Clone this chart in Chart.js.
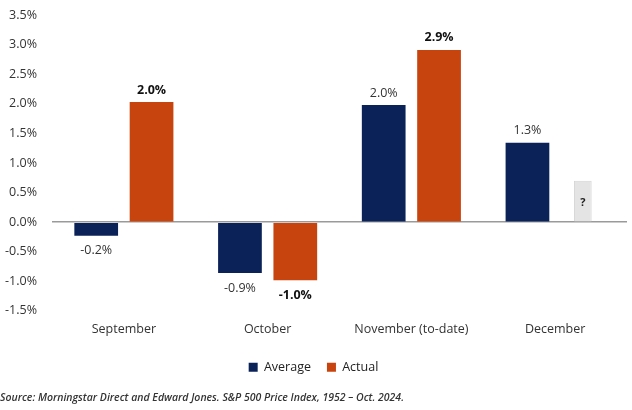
<!DOCTYPE html>
<html>
<head>
<meta charset="utf-8">
<script src="https://cdn.jsdelivr.net/npm/chart.js@4"></script>
<style>
html,body{margin:0;padding:0;background:#fff;}
#wrap{width:632px;height:410px;position:relative;}
</style>
</head>
<body>
<div id="wrap"><canvas id="c"></canvas></div>
<script>
const categories = ['September', 'October', 'November (to-date)', 'December'];
const averageValues = [-0.23, -0.86, 1.98, 1.34];
const actualValues = [2.03, -0.98, 2.91, null];
const unknownValues = [null, null, null, 0.7];
const tickMin = -1.5, tickMax = 3.5, tickStep = 0.5;
const sourceText = 'Source: Morningstar Direct and Edward Jones. S&P 500 Price Index, 1952 \u2013 Oct. 2024.';

const NAVY = '#0b2259';
const ORANGE = '#c8440f';
const FONT = "'Open Sans', 'Noto Sans', sans-serif";

const valueLabels = {
  id: 'valueLabels',
  afterDatasetsDraw(chart) {
    const ctx = chart.ctx;
    ctx.save();
    ctx.textAlign = 'center';
    ctx.textBaseline = 'middle';
    chart.data.datasets.forEach((ds, i) => {
      const meta = chart.getDatasetMeta(i);
      meta.data.forEach((bar, j) => {
        const v = ds.data[j];
        if (v == null) return;
        if (ds.kind === 'unknown') {
          ctx.font = "bold 11px " + FONT;
          ctx.fillStyle = '#222';
          ctx.fillText('?', bar.x, (bar.y + bar.base) / 2 + 2);
          return;
        }
        ctx.font = (ds.kind === 'actual' ? 'bold ' : '') + '12.5px ' + FONT;
        ctx.fillStyle = ds.kind === 'actual' ? '#111' : '#333';
        const txt = v.toFixed(1) + '%';
        const y = v >= 0 ? bar.y - 12 : bar.y + 15;
        ctx.fillText(txt, bar.x, y);
      });
    });
    ctx.restore();
  }
};

new Chart(document.getElementById('c'), {
  type: 'bar',
  data: {
    labels: categories,
    datasets: [
      { label: 'Average', kind: 'average', data: averageValues, backgroundColor: NAVY, stack: 'a' },
      { label: 'Actual', kind: 'actual', data: actualValues, backgroundColor: ORANGE, stack: 'b' },
      { label: 'Unknown', kind: 'unknown', data: unknownValues, backgroundColor: '#e4e4e4', borderColor: '#d4d4d4', borderWidth: 1, stack: 'b', barPercentage: 0.32 }
    ]
  },
  options: {
    responsive: true,
    maintainAspectRatio: false,
    animation: false,
    categoryPercentage: 0.77,
    barPercentage: 0.79,
    layout: { padding: { top: 15, right: 5, left: 0, bottom: 6 } },
    plugins: {
      tooltip: { enabled: false },
      legend: {
        position: 'bottom',
        labels: {
          filter: (item) => item.text !== 'Unknown',
          boxWidth: 9, boxHeight: 9,
          font: { family: FONT, size: 12.5 },
          color: '#222',
          padding: 16
        }
      },
      title: {
        display: true,
        position: 'bottom',
        align: 'start',
        text: sourceText,
        color: '#333',
        font: { family: FONT, size: 10.5, style: 'italic', weight: '600' },
        padding: { top: 8, bottom: 0 }
      }
    },
    scales: {
      x: {
        stacked: true,
        grid: { display: false },
        border: { display: false },
        afterFit: (scale) => { scale.height += 5; },
        ticks: { color: '#333', font: { family: FONT, size: 12.5 }, padding: 3 }
      },
      y: {
        stacked: true,
        min: tickMin, max: tickMax,
        border: { display: false },
        afterFit: (scale) => { scale.width = 52; scale.paddingTop = 0; },
        grid: {
          drawTicks: false,
          lineWidth: 1.5,
          color: (c) => (c.tick && c.tick.value === 0) ? '#9a9a9a' : 'rgba(0,0,0,0)'
        },
        ticks: {
          stepSize: tickStep,
          padding: 15,
          color: '#333',
          font: { family: FONT, size: 12.5 },
          callback: (v) => v.toFixed(1) + '%'
        }
      }
    }
  },
  plugins: [valueLabels]
});
</script>
</body>
</html>
